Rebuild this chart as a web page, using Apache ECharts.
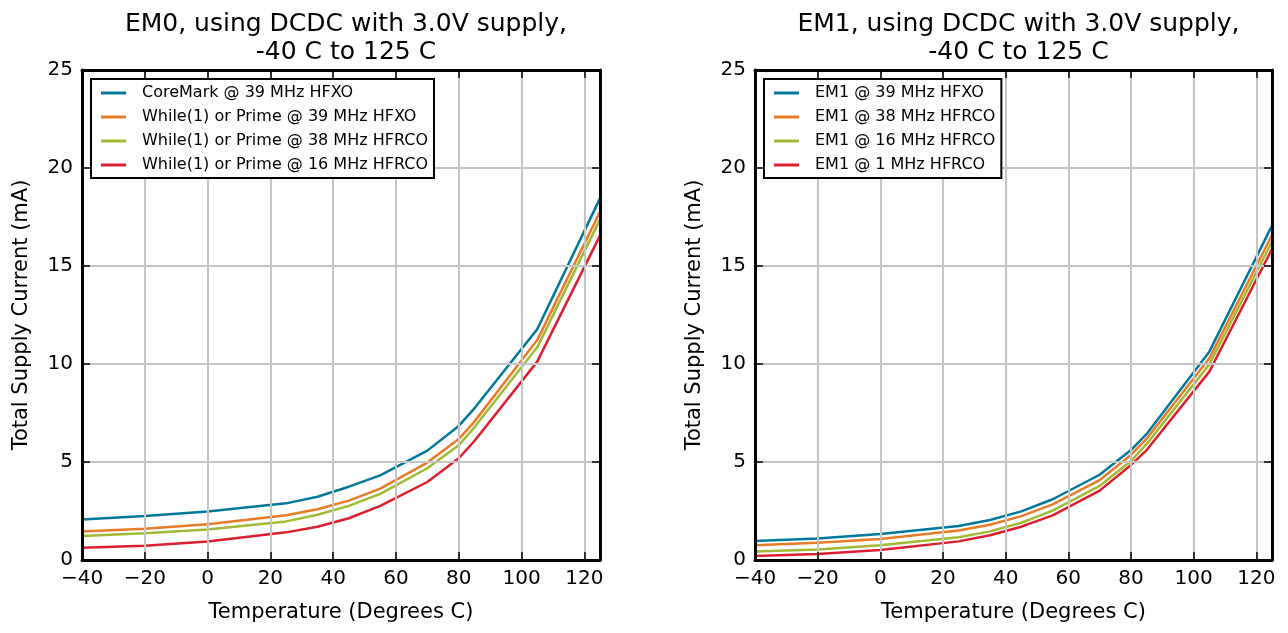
<!DOCTYPE html>
<html>
<head>
<meta charset="utf-8">
<script src="https://cdn.jsdelivr.net/npm/echarts@6/dist/echarts.min.js"></script>
<style>
html,body{margin:0;padding:0;background:#fff;}
#chart{width:1288px;height:633px;}
</style>
</head>
<body>
<div id="chart"></div>
<script>
// ---- data ----
const temps = [-40, -20, 0, 25, 35, 45, 55, 70, 80, 85, 105, 125];

const em0Names = ["CoreMark @ 39 MHz HFXO", "While(1) or Prime @ 39 MHz HFXO", "While(1) or Prime @ 38 MHz HFRCO", "While(1) or Prime @ 16 MHz HFRCO"];
const em0CoreMark39 = [2.07, 2.24, 2.48, 2.89, 3.23, 3.74, 4.32, 5.58, 6.84, 7.74, 11.77, 18.45];
const em0Prime39    = [1.46, 1.60, 1.82, 2.28, 2.59, 3.03, 3.64, 4.97, 6.17, 7.06, 11.22, 17.77];
const em0Prime38    = [1.22, 1.36, 1.56, 1.97, 2.31, 2.76, 3.37, 4.68, 5.85, 6.77, 10.85, 17.38];
const em0Prime16    = [0.63, 0.73, 0.94, 1.41, 1.70, 2.13, 2.76, 3.98, 5.19, 6.07, 10.12, 16.55];

const em1Names = ["EM1 @ 39 MHz HFXO", "EM1 @ 38 MHz HFRCO", "EM1 @ 16 MHz HFRCO", "EM1 @ 1 MHz HFRCO"];
const em1Hfxo39  = [0.97, 1.10, 1.33, 1.73, 2.04, 2.48, 3.10, 4.35, 5.61, 6.43, 10.63, 17.06];
const em1Hfrco38 = [0.75, 0.88, 1.07, 1.50, 1.80, 2.24, 2.84, 4.08, 5.36, 6.19, 10.29, 16.58];
const em1Hfrco16 = [0.44, 0.54, 0.75, 1.16, 1.46, 1.90, 2.52, 3.78, 5.05, 5.92, 9.98, 16.24];
const em1Hfrco1  = [0.20, 0.31, 0.51, 0.95, 1.26, 1.70, 2.28, 3.54, 4.85, 5.61, 9.61, 15.87];

const titles = ["EM0, using DCDC with 3.0V supply,\n-40 C to 125 C", "EM1, using DCDC with 3.0V supply,\n-40 C to 125 C"];
const xName = "Temperature (Degrees C)";
const yName = "Total Supply Current (mA)";
const colors = ["#00789c", "#e97b26", "#a0ba33", "#dc1f30"];

// ---- chart ----
const FONT = "DejaVu Sans";
const grids = [
  {left: 82, top: 70, width: 518, height: 490},
  {left: 755, top: 70, width: 517, height: 490}
];
function minus(v){ return String(v).replace('-', '\u2212'); }

const frame = {show: true, onZero: false, lineStyle: {color: '#000', width: 3}};
const tick = {inside: true, length: 8, lineStyle: {color: '#000', width: 1.5}};
const grid = {show: true, lineStyle: {color: '#c4c4c4', width: 2}};

const xAxes = [], yAxes = [], series = [], legends = [], titleComps = [];
grids.forEach((g, i) => {
  xAxes.push({
    gridIndex: i, type: 'value', position: 'bottom', min: -40, max: 125, interval: 20,
    name: xName, nameLocation: 'middle', nameGap: 42,
    nameTextStyle: {fontFamily: FONT, fontSize: 21, color: '#000'},
    axisLine: frame, axisTick: tick,
    axisLabel: {fontFamily: FONT, fontSize: 20, color: '#000', margin: 9, showMaxLabel: false, formatter: minus},
    splitLine: grid, z: 3
  });
  xAxes.push({
    gridIndex: i, type: 'value', position: 'top', min: -40, max: 125, interval: 20,
    axisLine: frame, axisTick: tick, axisLabel: {show: false}, splitLine: {show: false}, z: 3
  });
  yAxes.push({
    gridIndex: i, type: 'value', position: 'left', min: 0, max: 25, interval: 5,
    name: yName, nameLocation: 'middle', nameGap: 50, nameRotate: 90,
    nameTextStyle: {fontFamily: FONT, fontSize: 21, color: '#000'},
    axisLine: frame, axisTick: tick,
    axisLabel: {fontFamily: FONT, fontSize: 20, color: '#000', margin: 9},
    splitLine: grid, z: 3
  });
  yAxes.push({
    gridIndex: i, type: 'value', position: 'right', min: 0, max: 25, interval: 5,
    axisLine: frame, axisTick: tick, axisLabel: {show: false}, splitLine: {show: false}, z: 3
  });
  titleComps.push({
    text: titles[i], left: g.left + g.width / 2, top: 5, textAlign: 'center',
    textStyle: {fontFamily: FONT, fontSize: 25, fontWeight: 'normal', color: '#000', lineHeight: 28}
  });
});

const sets = [
  {names: em0Names, data: [em0CoreMark39, em0Prime39, em0Prime38, em0Prime16]},
  {names: em1Names, data: [em1Hfxo39, em1Hfrco38, em1Hfrco16, em1Hfrco1]}
];
sets.forEach((s, i) => {
  s.names.forEach((n, k) => {
    series.push({
      name: n, type: 'line', xAxisIndex: i * 2, yAxisIndex: i * 2,
      data: temps.map((t, j) => [t, s.data[k][j]]),
      symbol: 'none', smooth: false, color: colors[k],
      lineStyle: {width: 2.5, color: colors[k]}, z: 2
    });
  });
  legends.push({
    data: s.names, orient: 'vertical', left: grids[i].left + 9, top: 79,
    backgroundColor: '#fff', borderColor: '#000', borderWidth: 2,
    padding: [5, 6, 4, 10], itemGap: 6, itemWidth: 25, itemHeight: 3, icon: 'rect',
    textStyle: {fontFamily: FONT, fontSize: 16, color: '#000', padding: [0, 0, 0, 11], lineHeight: 18},
    selectedMode: false, z: 10
  });
});

const chart = echarts.init(document.getElementById('chart'), null, {renderer: 'canvas'});
chart.setOption({
  animation: false,
  backgroundColor: '#fff',
  title: titleComps,
  grid: grids.map(g => Object.assign({show: false, containLabel: false}, g)),
  xAxis: xAxes,
  yAxis: yAxes,
  legend: legends,
  series: series
});
</script>
</body>
</html>
